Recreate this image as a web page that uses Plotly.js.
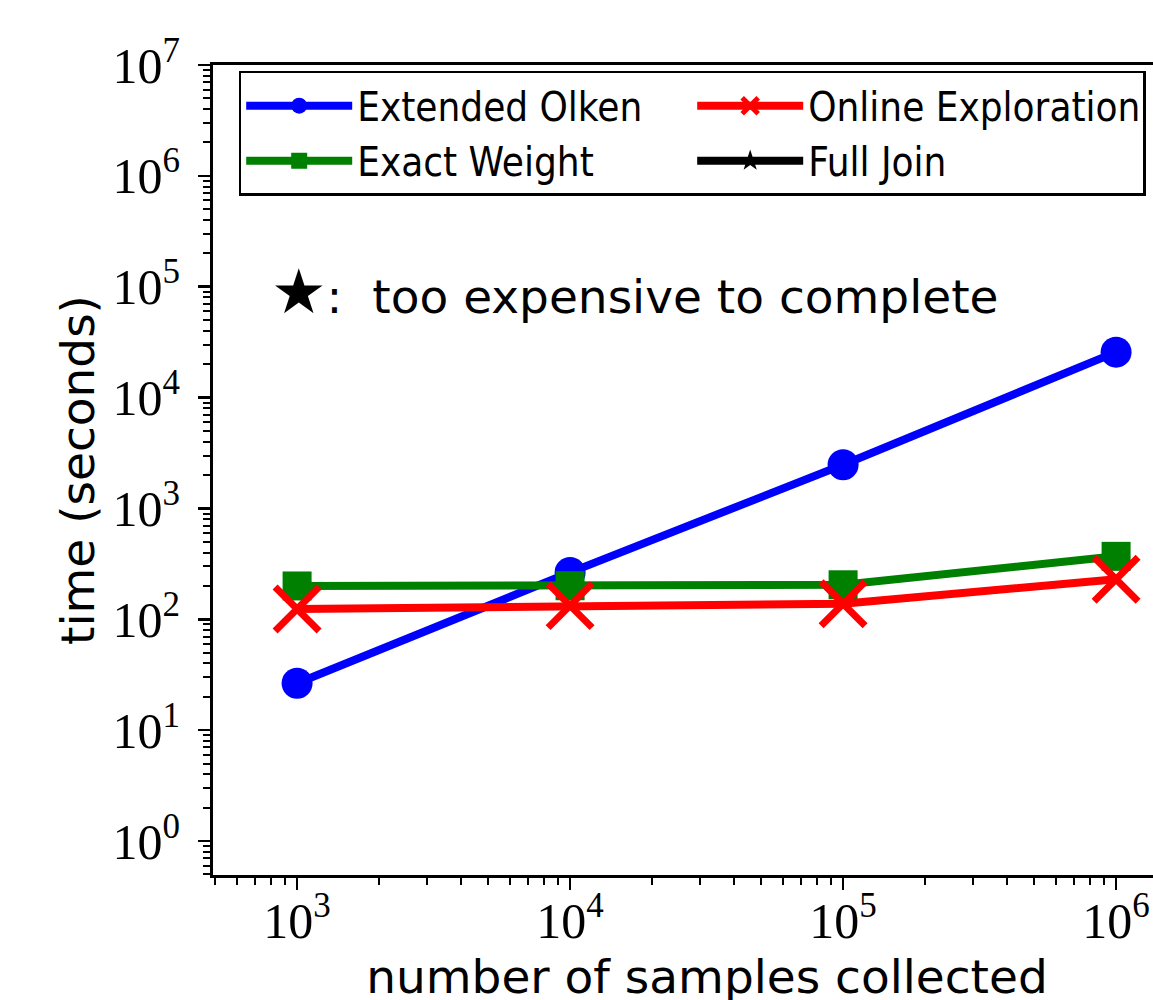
<!DOCTYPE html>
<html>
<head>
<meta charset="utf-8">
<script src="https://cdn.plot.ly/plotly-3.0.1.min.js"></script>
<style>
  html, body { margin: 0; padding: 0; overflow: hidden; background: #fff; }
  #chart { width: 1215px; height: 1040px; }
</style>
</head>
<body>
<div id="chart"></div>
<script>
// Sampling cost vs. number of samples (log-log)
const samples = [1e3, 1e4, 1e5, 1e6];
const extendedOlken = [26.5, 265, 2480, 25700];
const exactWeight = [200, 201, 205, 370];
const onlineExploration = [124, 133, 138, 230];
const fullJoin = [null]; // never finishes, legend entry only

const xTickVals = [1e3, 1e4, 1e5, 1e6];
const xTickText = ['10<sup>3</sup>', '10<sup>4</sup>', '10<sup>5</sup>', '10<sup>6</sup>'];
const yTickVals = [1e0, 1e1, 1e2, 1e3, 1e4, 1e5, 1e6, 1e7];
const yTickText = ['10<sup>0</sup>', '10<sup>1</sup>', '10<sup>2</sup>', '10<sup>3</sup>',
                   '10<sup>4</sup>', '10<sup>5</sup>', '10<sup>6</sup>', '10<sup>7</sup>'];

function minorLogTicks(lo, hi) {
  const out = [];
  for (let e = lo; e <= hi; e++) {
    for (let m = 2; m <= 9; m++) out.push(m * Math.pow(10, e));
  }
  return out;
}

const LW = 8;
const traces = [
  {
    name: 'Extended Olken', x: samples, y: extendedOlken, mode: 'lines+markers',
    line: {color: '#0000ff', width: LW},
    marker: {symbol: 'circle', size: 31, color: '#0000ff'},
    legendrank: 1
  },
  {
    name: 'Exact Weight', x: samples, y: exactWeight, mode: 'lines+markers',
    line: {color: '#008000', width: LW},
    marker: {symbol: 'square', size: 29, color: '#008000'},
    legendrank: 3
  },
  {
    name: 'Online Exploration', x: samples, y: onlineExploration, mode: 'lines+markers',
    line: {color: '#ff0000', width: LW},
    marker: {symbol: 'x-thin', size: 44, color: '#ff0000', line: {color: '#ff0000', width: 7}},
    legendrank: 2
  },
  {
    name: 'Full Join', x: [null], y: fullJoin, mode: 'lines+markers',
    line: {color: '#000000', width: LW},
    marker: {symbol: 'star', size: 30, color: '#000000'},
    legendrank: 4
  }
];

const tickFont = {family: 'Liberation Serif, serif', size: 50, color: '#000'};
const axisCommon = {
  type: 'log',
  showgrid: false,
  zeroline: false,
  showline: true,
  linecolor: '#000',
  linewidth: 3,
  mirror: true,
  ticks: 'outside',
  ticklen: 12,
  tickwidth: 2.5,
  tickcolor: '#000',
  tickmode: 'array',
  tickfont: tickFont
};

const layout = {
  width: 1215,
  height: 1040,
  margin: {l: 213, r: 14, t: 65, b: 165},
  paper_bgcolor: '#fff',
  plot_bgcolor: '#fff',
  showlegend: true,
  xaxis: Object.assign({}, axisCommon, {
    range: [Math.log10(492), Math.log10(492) + 988 / 273],
    tickvals: xTickVals,
    ticktext: xTickText,
    ticklabelstandoff: -12,
    minor: {tickmode: 'array', tickvals: minorLogTicks(2, 6), ticks: 'outside',
            ticklen: 7, tickwidth: 2, tickcolor: '#000', showgrid: false},
    title: {text: 'number of samples collected', standoff: 13,
            font: {family: 'DejaVu Sans, sans-serif', size: 47, color: '#000'}}
  }),
  yaxis: Object.assign({}, axisCommon, {
    range: [-0.306, 7],
    tickvals: yTickVals,
    ticktext: yTickText,
    ticklabelstandoff: 8,
    minor: {tickmode: 'array', tickvals: minorLogTicks(-1, 6), ticks: 'outside',
            ticklen: 7, tickwidth: 2, tickcolor: '#000', showgrid: false},
    title: {text: 'time (seconds)', standoff: 4,
            font: {family: 'DejaVu Sans, sans-serif', size: 47, color: '#000'}}
  }),
  legend: {
    orientation: 'h',
    x: 0.026, y: 0.993, xanchor: 'left', yanchor: 'top',
    entrywidth: 330,
    bgcolor: '#fff',
    bordercolor: '#000',
    borderwidth: 2.5,
    itemwidth: 106,
    font: {family: 'DejaVu Sans Condensed, DejaVu Sans, sans-serif', size: 40,
           color: '#000', stretch: 'condensed'},
    traceorder: 'normal'
  },
  annotations: [{
    xref: 'paper', yref: 'paper',
    x: 0.057, y: 0.72, xanchor: 'left', yanchor: 'middle',
    text: '<span style="font-size:62px">\u2605</span>:  too expensive to complete',
    showarrow: false,
    font: {family: 'DejaVu Sans, sans-serif', size: 47, color: '#000'}
  }]
};

Plotly.newPlot('chart', traces, layout, {displayModeBar: false, staticPlot: true});
</script>
</body>
</html>
